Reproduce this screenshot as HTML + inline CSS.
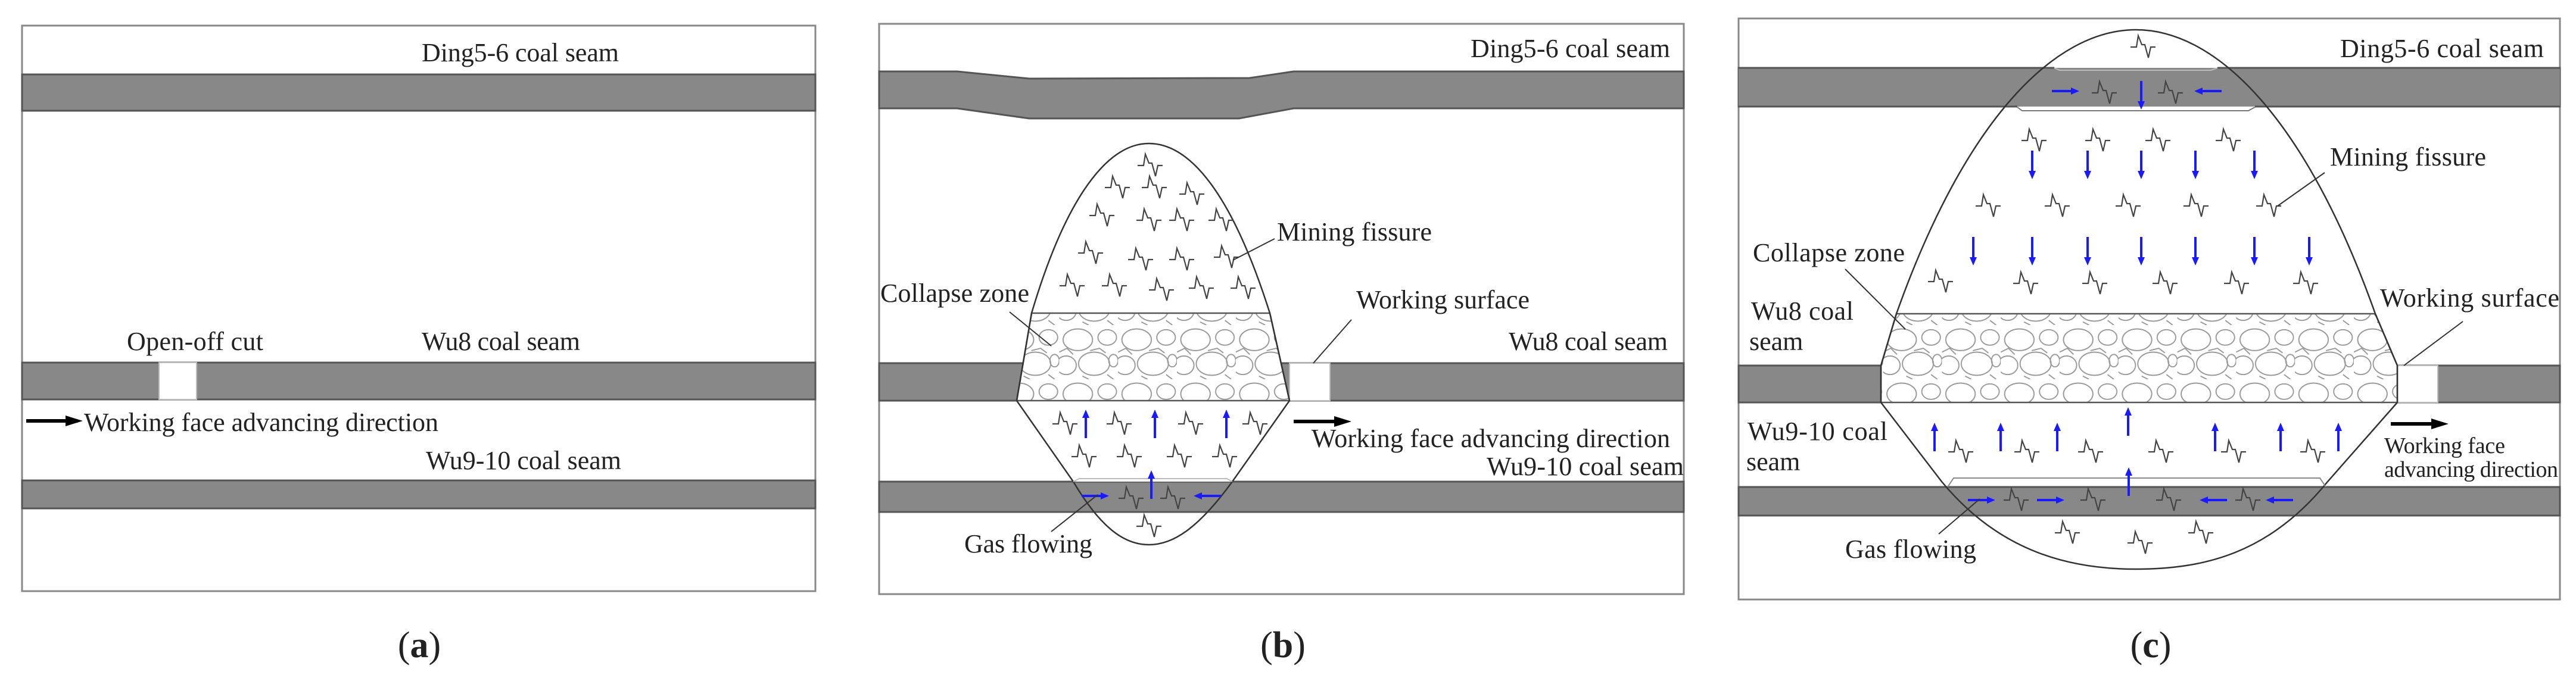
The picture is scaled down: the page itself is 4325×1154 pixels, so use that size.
<!DOCTYPE html>
<html><head><meta charset="utf-8"><style>
html,body{margin:0;padding:0;background:#fff;}
svg{display:block;}
text{font-family:"Liberation Serif",serif;fill:#222;}
</style></head><body>
<svg width="4325" height="1154" viewBox="0 0 4325 1154" xmlns="http://www.w3.org/2000/svg">
<defs>
<path id="g" d="M0,22 L10,22 L13,3 L19,18 L24,18 L30,40 L34,22 L42,22" fill="none" stroke="#444" stroke-width="2.2"/>
<g id="au"><line x1="0" y1="48" x2="0" y2="12" stroke="#1a1aff" stroke-width="4"/><path d="M-6,14 L0,0 L6,14Z" fill="#1a1aff"/></g>
<g id="ad"><line x1="0" y1="-48" x2="0" y2="-12" stroke="#1a1aff" stroke-width="4"/><path d="M-6,-14 L0,0 L6,-14Z" fill="#1a1aff"/></g>
<g id="ar"><line x1="-46" y1="0" x2="-12" y2="0" stroke="#1a1aff" stroke-width="4"/><path d="M-14,-6 L0,0 L-14,6Z" fill="#1a1aff"/></g>
<g id="al"><line x1="46" y1="0" x2="12" y2="0" stroke="#1a1aff" stroke-width="4"/><path d="M14,-6 L0,0 L14,6Z" fill="#1a1aff"/></g>
<pattern id="rub" width="76" height="70" patternUnits="userSpaceOnUse" patternTransform="scale(1.3)">
<g fill="none" stroke="#9a9a9a" stroke-width="1.5">
<ellipse cx="24" cy="19" rx="19" ry="14"/><ellipse cx="62" cy="16" rx="12" ry="10"/>
<ellipse cx="9" cy="52" rx="13" ry="12"/><ellipse cx="45" cy="50" rx="20" ry="15"/>
<ellipse cx="70" cy="46" rx="6" ry="8"/><path d="M0,35 L10,30 L18,38 M40,33 L52,30 L60,36 M30,66 L38,70 M62,64 L70,70"/>
</g></pattern>
</defs>

<!-- Panel a -->
<rect x="37" y="43" width="1332" height="950" fill="#fff" stroke="#888" stroke-width="3"/>
<rect x="37" y="125" width="1332" height="61" fill="#888" stroke="#555" stroke-width="3"/>
<rect x="37" y="609" width="1332" height="62" fill="#888" stroke="#555" stroke-width="3"/>
<rect x="267" y="609" width="63" height="62" fill="#fff" stroke="#bbb" stroke-width="2"/>
<rect x="37" y="807" width="1332" height="47" fill="#888" stroke="#555" stroke-width="3"/>
<text x="708" y="103" font-size="44" textLength="331">Ding5-6 coal seam</text>
<text x="213" y="588" font-size="44" textLength="229">Open-off cut</text>
<text x="708" y="588" font-size="44" textLength="266">Wu8 coal seam</text>
<line x1="44" y1="707" x2="115" y2="707" stroke="#000" stroke-width="6"/><path d="M110,698 L139,707 L110,716Z" fill="#000"/>
<text x="141" y="724" font-size="44" textLength="595">Working face advancing direction</text>
<text x="715" y="788" font-size="44" textLength="328">Wu9-10 coal seam</text>
<text x="704" y="1104" font-size="62" text-anchor="middle">(<tspan font-weight="bold">a</tspan>)</text>

<!-- Panel b -->
<rect x="1476" y="40" width="1351" height="958" fill="#fff" stroke="#888" stroke-width="3"/>
<path d="M1476,120 L1607,120 L1728,132 L2098,131 L2172,120 L2827,120 L2827,182 L2172,182 L2080,199 L1728,199 L1607,182 L1476,182Z" fill="#888" stroke="#555" stroke-width="3"/>
<rect x="1476" y="610" width="1351" height="63" fill="#888" stroke="#555" stroke-width="3"/>
<rect x="2165" y="610" width="68" height="63" fill="#fff" stroke="#bbb" stroke-width="2"/>
<rect x="1476" y="809" width="1351" height="51" fill="#888" stroke="#555" stroke-width="3"/>
<path d="M1732,526 C1790,330 1860,241 1929,241 C2000,241 2070,330 2132,526Z" fill="#fff"/>
<path d="M1707,673 L1802,809 L2069,809 L2165,673Z" fill="#fff"/>
<polygon points="1732,526 2132,526 2165,673 1707,673" fill="#fff"/>
<polygon points="1732,526 2132,526 2165,673 1707,673" fill="url(#rub)" stroke="#555" stroke-width="2.5"/>
<path d="M1707,673 L1732,526 C1790,330 1860,241 1929,241 C2000,241 2070,330 2132,526 L2165,673" fill="none" stroke="#333" stroke-width="2.5"/>
<path d="M1707,673 L1802,809 C1850,890 1890,915 1929,915 C1968,915 2010,890 2069,809 L2165,673" fill="none" stroke="#333" stroke-width="2.5"/>
<path d="M1802,809 L1812,804 L2060,804 L2069,809" fill="none" stroke="#bbb" stroke-width="2"/>
<g>
<use href="#g" x="1910" y="256"/><use href="#g" x="1855" y="293"/><use href="#g" x="1917" y="293"/><use href="#g" x="1980" y="304"/>
<use href="#g" x="1829" y="340"/><use href="#g" x="1908" y="348"/><use href="#g" x="1963" y="348"/><use href="#g" x="2029" y="348"/>
<use href="#g" x="1810" y="403"/><use href="#g" x="1894" y="414"/><use href="#g" x="1963" y="414"/><use href="#g" x="2038" y="410"/>
<use href="#g" x="1779" y="458"/><use href="#g" x="1850" y="458"/><use href="#g" x="1929" y="465"/><use href="#g" x="1996" y="462"/><use href="#g" x="2066" y="462"/>
<use href="#g" x="1767" y="690"/><use href="#g" x="1858" y="690"/><use href="#g" x="1978" y="690"/><use href="#g" x="2086" y="690"/>
<use href="#g" x="1799" y="745"/><use href="#g" x="1875" y="745"/><use href="#g" x="1959" y="745"/><use href="#g" x="2035" y="745"/>
<use href="#g" x="1878" y="815"/><use href="#g" x="1948" y="815"/><use href="#g" x="1908" y="862"/>
</g>
<use href="#au" x="1823" y="688"/><use href="#au" x="1939" y="688"/><use href="#au" x="2059" y="688"/><use href="#au" x="1933" y="790"/>
<use href="#ar" x="1862" y="833"/><use href="#al" x="2004" y="833"/>
<g stroke="#333" stroke-width="2"><line x1="2140" y1="401" x2="2070" y2="437"/><line x1="1695" y1="524" x2="1765" y2="581"/><line x1="2269" y1="537" x2="2205" y2="610"/><line x1="1765" y1="893" x2="1843" y2="831"/></g>
<text x="2469" y="96" font-size="44" textLength="335">Ding5-6 coal seam</text>
<text x="2144" y="404" font-size="44" textLength="260">Mining fissure</text>
<text x="1478" y="507" font-size="44" textLength="250">Collapse zone</text>
<text x="2277" y="518" font-size="44" textLength="291">Working surface</text>
<text x="2533" y="588" font-size="44" textLength="267">Wu8 coal seam</text>
<line x1="2172" y1="708" x2="2245" y2="708" stroke="#000" stroke-width="6"/><path d="M2240,699 L2269,708 L2240,717Z" fill="#000"/>
<text x="2202" y="751" font-size="44" textLength="602">Working face advancing direction</text>
<text x="2496" y="798" font-size="44" textLength="331">Wu9-10 coal seam</text>
<text x="1619" y="928" font-size="44" textLength="215">Gas flowing</text>
<text x="2154" y="1104" font-size="62" text-anchor="middle">(<tspan font-weight="bold">b</tspan>)</text>

<!-- Panel c -->
<rect x="2919" y="31" width="1379" height="976" fill="#fff" stroke="#888" stroke-width="3"/>
<rect x="2919" y="114" width="1379" height="65" fill="#888" stroke="#555" stroke-width="3"/>
<rect x="2919" y="614" width="1379" height="62" fill="#888" stroke="#555" stroke-width="3"/>
<rect x="4025" y="614" width="68" height="62" fill="#fff" stroke="#bbb" stroke-width="2"/>
<rect x="2919" y="818" width="1379" height="48" fill="#888" stroke="#555" stroke-width="3"/>
<path d="M3387,180 L3184,527 L3988,527 L3786,180Z" fill="#fff"/>
<path d="M3184,527 C3300,200 3450,50 3586,50 C3722,50 3872,200 3988,527Z" fill="#fff"/>
<rect x="2919" y="114" width="1379" height="65" fill="#888" stroke="none"/>
<line x1="2919" y1="114" x2="3449" y2="114" stroke="#555" stroke-width="3"/><line x1="3723" y1="114" x2="4298" y2="114" stroke="#555" stroke-width="3"/>
<line x1="2919" y1="179" x2="3387" y2="179" stroke="#555" stroke-width="3"/><line x1="3786" y1="179" x2="4298" y2="179" stroke="#555" stroke-width="3"/>
<path d="M3449,114 L3458,118 L3712,118 L3723,114" fill="none" stroke="#bbb" stroke-width="2"/>
<path d="M3387,180 L3395,186 L3775,186 L3786,180" fill="none" stroke="#777" stroke-width="2"/>
<path d="M3158,676 L3260,809 L3908,809 L4025,676Z" fill="#fff"/>
<polygon points="3184,527 3988,527 4025,614 4025,676 3158,676 3158,614" fill="#fff"/>
<polygon points="3184,527 3988,527 4025,614 4025,676 3158,676 3158,614" fill="url(#rub)" stroke="#555" stroke-width="2.5"/>
<path d="M3158,676 L3158,614 L3184,527 C3300,200 3450,50 3586,50 C3722,50 3872,200 3988,527 L4025,614 L4025,676" fill="none" stroke="#333" stroke-width="2.5"/>
<path d="M3158,676 L3260,809 C3360,930 3480,956 3586,956 C3700,956 3810,930 3908,809 L4025,676" fill="none" stroke="#333" stroke-width="2.5"/>
<path d="M3270,818 L3280,803 L3895,803 L3905,818" fill="none" stroke="#888" stroke-width="2"/>
<g>
<use href="#g" x="3577" y="57"/><use href="#g" x="3512" y="134"/><use href="#g" x="3623" y="134"/>
<use href="#g" x="3394" y="214"/><use href="#g" x="3501" y="214"/><use href="#g" x="3602" y="214"/><use href="#g" x="3720" y="214"/>
<use href="#g" x="3317" y="324"/><use href="#g" x="3433" y="324"/><use href="#g" x="3552" y="324"/><use href="#g" x="3666" y="324"/><use href="#g" x="3788" y="324"/>
<use href="#g" x="3237" y="451"/><use href="#g" x="3380" y="454"/><use href="#g" x="3496" y="454"/><use href="#g" x="3614" y="454"/><use href="#g" x="3734" y="454"/><use href="#g" x="3850" y="454"/>
<use href="#g" x="3271" y="737"/><use href="#g" x="3382" y="737"/><use href="#g" x="3489" y="737"/><use href="#g" x="3607" y="737"/><use href="#g" x="3729" y="737"/><use href="#g" x="3862" y="737"/>
<use href="#g" x="3364" y="818"/><use href="#g" x="3493" y="818"/><use href="#g" x="3620" y="818"/><use href="#g" x="3753" y="818"/>
<use href="#g" x="3450" y="873"/><use href="#g" x="3572" y="890"/><use href="#g" x="3674" y="873"/>
</g>
<use href="#ad" x="3595" y="184"/>
<use href="#ad" x="3412" y="301"/><use href="#ad" x="3505" y="301"/><use href="#ad" x="3595" y="301"/><use href="#ad" x="3686" y="301"/><use href="#ad" x="3785" y="301"/>
<use href="#ad" x="3313" y="446"/><use href="#ad" x="3412" y="446"/><use href="#ad" x="3505" y="446"/><use href="#ad" x="3595" y="446"/><use href="#ad" x="3686" y="446"/><use href="#ad" x="3785" y="446"/><use href="#ad" x="3877" y="446"/>
<use href="#au" x="3248" y="710"/><use href="#au" x="3359" y="710"/><use href="#au" x="3454" y="710"/><use href="#au" x="3719" y="710"/><use href="#au" x="3829" y="710"/><use href="#au" x="3926" y="710"/>
<use href="#au" x="3573" y="684"/><use href="#au" x="3574" y="785"/>
<use href="#ar" x="3491" y="153"/><use href="#al" x="3684" y="153"/>
<use href="#ar" x="3350" y="840"/><use href="#ar" x="3466" y="840"/><use href="#al" x="3693" y="840"/><use href="#al" x="3804" y="840"/>
<g stroke="#333" stroke-width="2"><line x1="3903" y1="290" x2="3824" y2="346"/><line x1="3098" y1="452" x2="3199" y2="553"/><line x1="4135" y1="540" x2="4036" y2="614"/><line x1="3255" y1="897" x2="3324" y2="838"/></g>
<text x="3929" y="96" font-size="44" textLength="342">Ding5-6 coal seam</text>
<text x="3912" y="278" font-size="44" textLength="262">Mining fissure</text>
<text x="2943" y="439" font-size="44" textLength="255">Collapse zone</text>
<text x="2940" y="537" font-size="44" textLength="172">Wu8 coal</text>
<text x="2937" y="588" font-size="44">seam</text>
<text x="3996" y="515" font-size="44" textLength="301">Working surface</text>
<text x="2934" y="739" font-size="44" textLength="235">Wu9-10 coal</text>
<text x="2932" y="790" font-size="44">seam</text>
<line x1="4014" y1="712" x2="4087" y2="712" stroke="#000" stroke-width="6"/><path d="M4082,703 L4111,712 L4082,721Z" fill="#000"/>
<text x="4003" y="761" font-size="38" textLength="203">Working face</text>
<text x="4003" y="801" font-size="38" textLength="292">advancing direction</text>
<text x="3098" y="937" font-size="44" textLength="220">Gas flowing</text>
<text x="3611" y="1104" font-size="62" text-anchor="middle">(<tspan font-weight="bold">c</tspan>)</text>
</svg>
</body></html>
